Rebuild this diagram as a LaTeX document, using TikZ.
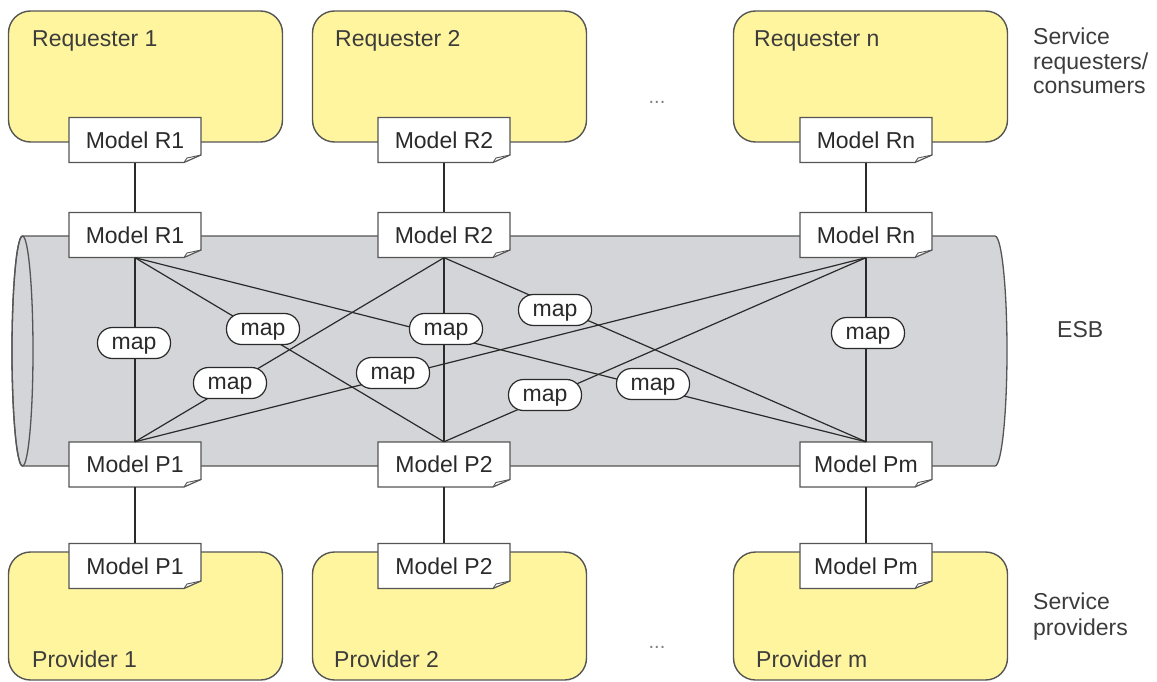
\documentclass[tikz,border=0pt]{standalone}
\usepackage{fontspec}
\setmainfont{Liberation Sans}
\usetikzlibrary{calc}

\definecolor{partyfill}{HTML}{FFF59E}
\definecolor{esbfill}{HTML}{D4D5D8}
\definecolor{edge}{HTML}{555555}
\definecolor{ink}{HTML}{2A2A2A}
\definecolor{capink}{HTML}{3C3C3C}

\tikzset{
  party/.style={draw=edge, line width=1.4pt, fill=partyfill, rounded corners=22pt,
    minimum width=274pt, inner sep=0pt},
  doctext/.style={minimum width=132pt, minimum height=45pt, inner sep=0pt,
    text=ink, font=\fontsize{23}{27}\selectfont},
  docline/.style={draw=edge, line width=1.2pt, fill=white, line join=miter},
  docfold/.style={draw=edge, line width=0.9pt},
  mapbox/.style={draw=ink, line width=1.2pt, fill=white, rounded corners=15pt,
    minimum width=73pt, minimum height=31pt, inner sep=0pt, text height=12pt,
    text depth=0pt, text=ink, font=\fontsize{23}{27}\selectfont},
  wire/.style={draw=ink, line width=1.2pt},
  caption/.style={anchor=base west, inner sep=0pt, text=capink,
    font=\fontsize{23}{27}\selectfont},
  dots/.style={anchor=base, inner sep=0pt, text=gray, font=\fontsize{20}{24}\selectfont},
}

% document-shaped model box with a folded bottom-right corner
\newcommand\docnode[4]{%
  \path[docline] ($(#2,#3)+(-66,-22.5)$) -- ++(132,0) -- ++(0,37.5)
    -- ++(-17,7.5) -- ++(-115,0) -- cycle;
  \path[docfold] ($(#2,#3)+(49,22.5)$) -- ++(3,-4.5) -- ++(14,-3);
  \node[doctext] (#1) at (#2,#3) {#4};
}

\begin{document}
\begin{tikzpicture}[x=1pt, y=-1pt]
\useasboundingbox (0,0) rectangle (1157,682);

% requesters and providers
\node[party, minimum height=131pt] (req1) at (145.5,76.5) {};
\node[party, minimum height=131pt] (req2) at (449.5,76.5) {};
\node[party, minimum height=131pt] (reqn) at (870.5,76.5) {};
\node[party, minimum height=128pt] (prov1) at (145.5,616) {};
\node[party, minimum height=128pt] (prov2) at (449.5,616) {};
\node[party, minimum height=128pt] (provm) at (870.5,616) {};

\node[caption] (req1t) at (32,47) {Requester 1};
\node[caption] (req2t) at (335,47) {Requester 2};
\node[caption] (reqnt) at (754,47) {Requester n};
\node[caption] (prov1t) at (32,667) {Provider 1};
\node[caption] (prov2t) at (334,667) {Provider 2};
\node[caption] (provmt) at (756,667) {Provider m};

\node[dots] (dotsup) at (657,104) {...};
\node[dots] (dotsdown) at (657,648) {...};

% the bus cylinder
\path[draw=edge, fill=esbfill, line width=1.3pt]
  (22.5,236) -- (995,236)
  .. controls (1001.6,236) and (1007,287.5) .. (1007,351)
  .. controls (1007,414.5) and (1001.6,466) .. (995,466)
  -- (22.5,466)
  .. controls (16.7,466) and (12,414.5) .. (12,351)
  .. controls (12,287.5) and (16.7,236) .. (22.5,236) -- cycle;
\draw[edge, line width=1.3pt] (22.5,351) ellipse [x radius=10.5, y radius=115];

% side captions
\node[caption] (srv1) at (1033,45) {Service};
\node[caption] (srv2) at (1033,69.5) {requesters/};
\node[caption] (srv3) at (1033,94) {consumers};
\node[caption] (esb) at (1057,337) {ESB};
\node[caption] (pv1) at (1033,609) {Service};
\node[caption] (pv2) at (1033,635) {providers};

% data models
\docnode{r1t}{135}{140}{Model R1}
\docnode{r2t}{444}{140}{Model R2}
\docnode{rnt}{866}{140}{Model Rn}
\docnode{r1e}{135}{235}{Model R1}
\docnode{r2e}{444}{235}{Model R2}
\docnode{rne}{866}{235}{Model Rn}
\docnode{p1e}{135}{464.5}{Model P1}
\docnode{p2e}{444}{464.5}{Model P2}
\docnode{pme}{866}{464.5}{Model Pm}
\docnode{p1b}{135}{566}{Model P1}
\docnode{p2b}{444}{566}{Model P2}
\docnode{pmb}{866}{566}{Model Pm}

% links between endpoints and the bus
\draw[wire] (r1t.south) -- (r1e.north);
\draw[wire] (r2t.south) -- (r2e.north);
\draw[wire] (rnt.south) -- (rne.north);
\draw[wire] (p1e.south) -- (p1b.north);
\draw[wire] (p2e.south) -- (p2b.north);
\draw[wire] (pme.south) -- (pmb.north);

% every requester model mapped to every provider model
\foreach \r in {r1e,r2e,rne}
  \foreach \p in {p1e,p2e,pme}
    \draw[wire] (\r.south) -- (\p.north);

% mappings
\node[mapbox] (m11) at (134,343) {map};
\node[mapbox] (m12) at (263,329) {map};
\node[mapbox] (m21) at (230,383) {map};
\node[mapbox] (m22) at (446,329) {map};
\node[mapbox] (mn1) at (393,373) {map};
\node[mapbox] (m2m) at (555,310) {map};
\node[mapbox] (mn2) at (545,395) {map};
\node[mapbox] (m1m) at (653,384) {map};
\node[mapbox] (mnm) at (868,333) {map};
\end{tikzpicture}
\end{document}
